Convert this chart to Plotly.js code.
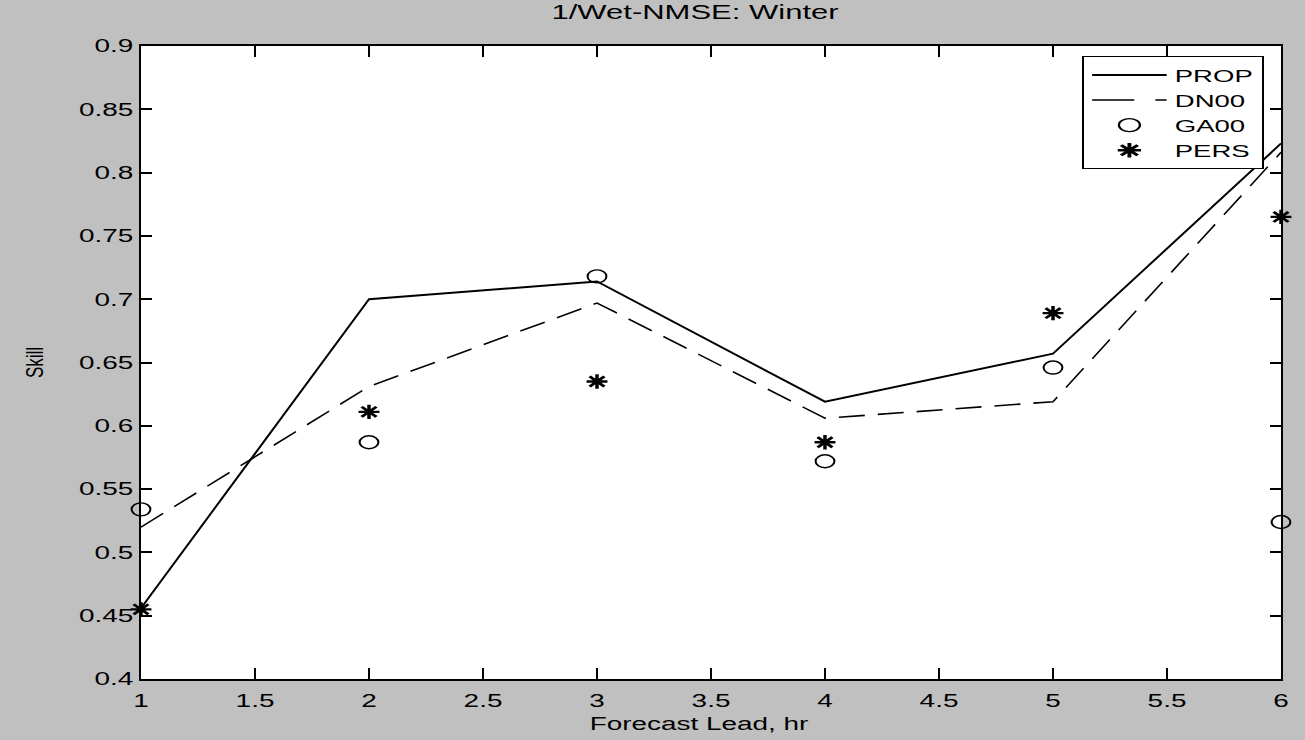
<!DOCTYPE html>
<html>
<head>
<meta charset="utf-8">
<script src="https://cdn.plot.ly/plotly-3.0.1.min.js"></script>
<style>
  html, body { margin: 0; padding: 0; background: #c0c0c0; }
  #chart { width: 1305px; height: 740px; }
</style>
</head>
<body>
<div id="chart"></div>
<script>
// Forecast lead times (hours)
const leadHours = [1, 2, 3, 4, 5, 6];

// Skill scores for each forecasting method
const propSkill = [0.456, 0.700, 0.714, 0.619, 0.657, 0.823];
const dn00Skill = [0.520, 0.631, 0.697, 0.606, 0.619, 0.816];
const ga00Skill = [0.534, 0.587, 0.718, 0.572, 0.646, 0.524];
const persSkill = [0.455, 0.611, 0.635, 0.587, 0.689, 0.765];

const xTicks = [1, 1.5, 2, 2.5, 3, 3.5, 4, 4.5, 5, 5.5, 6];
const yTicks = [0.4, 0.45, 0.5, 0.55, 0.6, 0.65, 0.7, 0.75, 0.8, 0.85, 0.9];

const font = "Liberation Sans, Arial, sans-serif";
// horizontal widening applied to labels, legend and markers (wide, old-style glyphs)
const WIDEN = 1.55;
const LEGEND_WIDEN = 1.62;

const traces = [
  { x: leadHours, y: propSkill, name: 'PROP', mode: 'lines',
    line: { color: '#000', width: 2 } },
  { x: leadHours, y: dn00Skill, name: 'DN00', mode: 'lines',
    line: { color: '#000', width: 1.6, dash: '26px,13px' } },
  { x: leadHours, y: ga00Skill, name: 'GA00', mode: 'markers', cliponaxis: false,
    marker: { symbol: 'circle-open', size: 13, color: '#000', line: { width: 1.4, color: '#000' } } },
  { x: leadHours, y: persSkill, name: 'PERS', mode: 'markers', cliponaxis: false,
    marker: { symbol: 'asterisk-open', size: 12, color: '#000', line: { width: 2.4, color: '#000' } } }
];

const axisCommon = {
  showgrid: false, zeroline: false, showline: true, mirror: 'ticks',
  linecolor: '#000', linewidth: 2, ticks: 'inside', ticklen: 11, tickwidth: 2,
  tickcolor: '#000', tickfont: { family: font, size: 18, color: '#000' }
};

const layout = {
  width: 1305, height: 740,
  paper_bgcolor: '#c0c0c0', plot_bgcolor: '#ffffff',
  margin: { l: 141, r: 24, t: 46, b: 61 },
  title: { text: '1/Wet-NMSE: Winter', font: { family: font, size: 20, color: '#000' },
           x: 0.486, xanchor: 'center', xref: 'paper', y: 0.984, yref: 'container', yanchor: 'middle' },
  xaxis: Object.assign({}, axisCommon, {
    range: [1, 6], tickvals: xTicks, ticktext: xTicks.map(String), ticklabelstandoff: 4,
    title: { text: 'Forecast Lead, hr', font: { family: font, size: 18, color: '#000' }, standoff: 8 }
  }),
  yaxis: Object.assign({}, axisCommon, {
    range: [0.4, 0.9], tickvals: yTicks, ticktext: yTicks.map(String), ticklabelstandoff: 2,
    title: { text: 'Skill', font: { family: font, size: 17, color: '#000' }, standoff: 50 }
  }),
  showlegend: true,
  legend: {
    x: 0.984, y: 0.984, xanchor: 'right', yanchor: 'top',
    bgcolor: '#ffffff', bordercolor: '#000', borderwidth: 1.2,
    font: { family: font, size: 17, color: '#000' },
    tracegroupgap: 0, itemwidth: 46
  }
};

// Widen text labels, marker glyphs and the legend horizontally, keeping anchors.
function widen(gd) {
  const sel = '.xtick text, .ytick text, .g-gtitle text, .g-xtitle text';
  gd.querySelectorAll(sel).forEach(t => {
    const w = t.getComputedTextLength();
    if (w > 0) {
      t.setAttribute('textLength', (w * WIDEN).toFixed(1));
      t.setAttribute('lengthAdjust', 'spacingAndGlyphs');
    }
  });
  // the axis title sits a little left of the axis centre
  const xt = gd.querySelector('.g-xtitle text');
  if (xt) xt.setAttribute('x', (+xt.getAttribute('x') - 12).toFixed(1));
  // rotated y title: widen its glyphs horizontally about its anchor
  const yt = gd.querySelector('.g-ytitle text');
  if (yt) {
    const x = +yt.getAttribute('x'), y = +yt.getAttribute('y');
    const tr = yt.getAttribute('transform') || '';
    yt.setAttribute('transform', `translate(${x},${y}) scale(1.45,1) translate(${-x},${-y}) ${tr}`);
  }
  gd.querySelectorAll('.scatterlayer .point').forEach(p => {
    const tr = p.getAttribute('transform') || '';
    p.setAttribute('transform', tr + ' scale(1.45,1)');
  });
  const lg = gd.querySelector('g.legend');
  const bg = lg && lg.querySelector('rect.bg');
  if (lg && bg) {
    const m = /translate\(([-\d.]+)[ ,]+([-\d.]+)\)/.exec(lg.getAttribute('transform') || '');
    if (m) {
      const tx = +m[1], ty = +m[2], W = +bg.getAttribute('width');
      lg.setAttribute('transform',
        `translate(${(tx + W - W * LEGEND_WIDEN).toFixed(1)},${ty}) scale(${LEGEND_WIDEN},1)`);
    }
  }
}

Plotly.newPlot('chart', traces, layout, { displayModeBar: false, staticPlot: true })
  .then(widen);
</script>
</body>
</html>
